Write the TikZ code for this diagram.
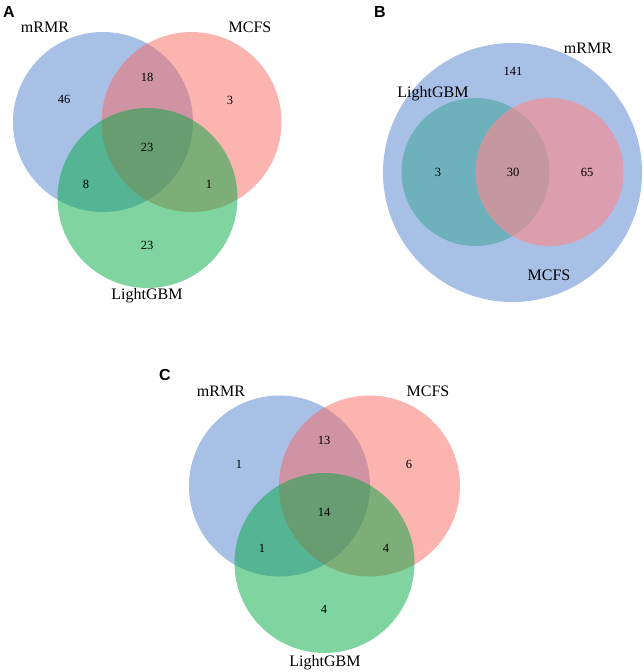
\documentclass[tikz,border=0pt]{standalone}
\usepackage{fontspec}
\setmainfont{Liberation Serif}
\newfontfamily\panelfont{Liberation Sans}
\definecolor{vblue}{RGB}{82,128,205}
\definecolor{vred}{RGB}{249,105,97}
\definecolor{vpink}{RGB}{255,136,137}
\definecolor{vgreen}{RGB}{1,169,65}
\definecolor{vteal}{RGB}{52,165,150}
\tikzset{
  setname/.style={font=\fontsize{16}{16}\selectfont},
  count/.style={font=\fontsize{12.5}{13}\selectfont},
  panel/.style={font=\panelfont\bfseries\fontsize{16}{16}\selectfont},
  bluefill/.style={fill=vblue,fill opacity=0.5},
  redfill/.style={fill=vred,fill opacity=0.5},
  pinkfill/.style={fill=vpink,fill opacity=0.6},
  greenfill/.style={fill=vgreen,fill opacity=0.5},
  tealfill/.style={fill=vteal,fill opacity=0.5},
}
\begin{document}
\begin{tikzpicture}[x=1pt,y=-1pt]
        \useasboundingbox (0,0) rectangle (643,672);
        % panel A
        \fill[bluefill] (103,122) circle (90);
        \fill[redfill] (191.5,122) circle (90);
        \fill[greenfill] (147.5,198) circle (90);
        \node[panel] (labA) at (9,12) {A};
        \node[setname] (mrmrA) at (45,27) {mRMR};
        \node[setname] (mcfsA) at (250,27) {MCFS};
        \node[setname] (lgbmA) at (147,296) {LightGBM};
        \node[count] (a1) at (64,99) {46};
        \node[count] (a2) at (147,77) {18};
        \node[count] (a3) at (230,100) {3};
        \node[count] (a4) at (147,147) {23};
        \node[count] (a5) at (86,184) {8};
        \node[count] (a6) at (209,184) {1};
        \node[count] (a7) at (147,245) {23};
        % panel B
        \fill[bluefill] (512.5,172.5) circle (129.5);
        \fill[tealfill] (475.5,172) circle (74);
        \fill[pinkfill] (549.5,172) circle (74);
        \node[panel] (labB) at (380,12) {B};
        \node[setname] (mrmrB) at (588,48) {mRMR};
        \node[setname] (lgbmB) at (433,94) {LightGBM};
        \node[setname] (mcfsB) at (549,275) {MCFS};
        \node[count] (b1) at (513,71) {141};
        \node[count] (b2) at (438,172) {3};
        \node[count] (b3) at (513,172) {30};
        \node[count] (b4) at (587,172) {65};
        % panel C
        \fill[bluefill] (279.5,486) circle (90.5);
        \fill[redfill] (369.5,486) circle (90.5);
        \fill[greenfill] (324.5,563) circle (90);
        \node[panel] (labC) at (165,375) {C};
        \node[setname] (mrmrC) at (221,391) {mRMR};
        \node[setname] (mcfsC) at (428,391) {MCFS};
        \node[setname] (lgbmC) at (325,663) {LightGBM};
        \node[count] (c1) at (239,464) {1};
        \node[count] (c2) at (324,440) {13};
        \node[count] (c3) at (409,464) {6};
        \node[count] (c4) at (324,512) {14};
        \node[count] (c5) at (262,548) {1};
        \node[count] (c6) at (386,548) {4};
        \node[count] (c7) at (324,609) {4};
      \end{tikzpicture}
\end{document}
